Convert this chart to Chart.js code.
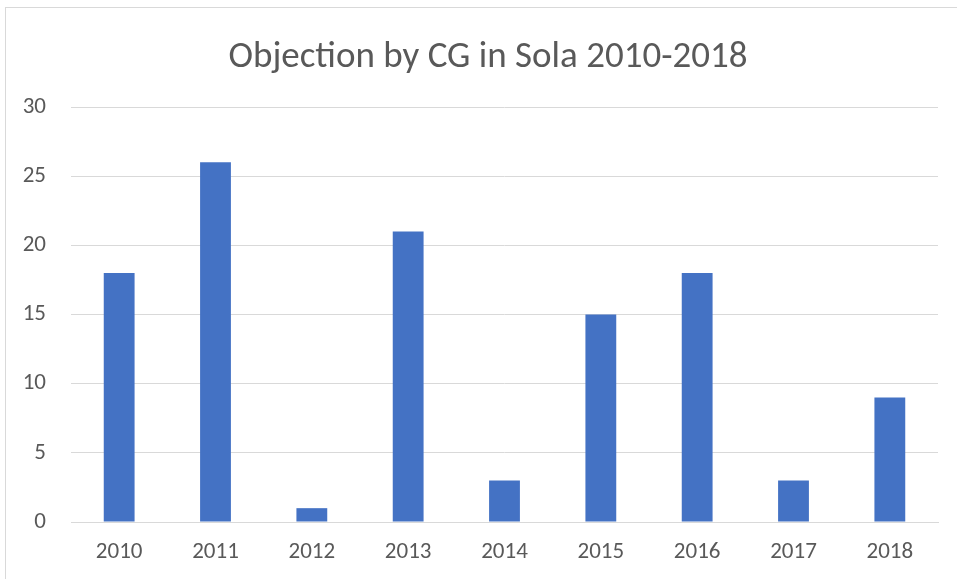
<!DOCTYPE html>
<html>
<head>
<meta charset="utf-8">
<script src="https://cdn.jsdelivr.net/npm/chart.js@4"></script>
<style>
html,body{margin:0;padding:0;background:#fff;overflow:hidden;}
#frame{position:absolute;left:5px;top:7px;width:1000px;height:640px;border:1px solid #d9d9d9;box-sizing:border-box;}
#wrap{position:absolute;left:0;top:0;width:957px;height:579px;}
</style>
</head>
<body>
<div id="frame"></div>
<div id="wrap"><canvas id="c" width="957" height="579"></canvas></div>
<script>
const categories = ["2010","2011","2012","2013","2014","2015","2016","2017","2018"];
const objections = [18, 26, 1, 21, 3, 15, 18, 3, 9];
const yTicks = [0, 5, 10, 15, 20, 25, 30];
const titleText = "Objection by CG in Sola 2010-2018";

const FONT = "Carlito, Calibri, Lato, 'Liberation Sans', sans-serif";

const titlePlugin = {
  id: 'centeredTitle',
  afterDraw(chart) {
    const ctx = chart.ctx;
    ctx.save();
    ctx.font = "normal 37px " + FONT;
    ctx.fillStyle = '#595959';
    ctx.textAlign = 'center';
    ctx.textBaseline = 'alphabetic';
    ctx.fillText(titleText, 488, 67);
    ctx.restore();
  }
};

new Chart(document.getElementById('c'), {
  type: 'bar',
  data: {
    labels: categories,
    datasets: [{
      data: objections,
      backgroundColor: '#4472C4',
      categoryPercentage: 1,
      barPercentage: 0.32
    }]
  },
  plugins: [titlePlugin],
  options: {
    responsive: false,
    animation: false,
    devicePixelRatio: 1,
    layout: { padding: { left: 0, right: 19, top: 107, bottom: 0 } },
    plugins: {
      legend: { display: false },
      tooltip: { enabled: false },
      title: { display: false }
    },
    scales: {
      x: {
        grid: { display: false, drawTicks: false },
        border: { color: '#d9d9d9', width: 1 },
        ticks: { color: '#595959', font: { family: FONT, size: 23 }, padding: 16 },
        afterFit: s => { s.height = 57; }
      },
      y: {
        min: 0, max: 30,
        afterBuildTicks: s => { s.ticks = yTicks.map(v => ({ value: v })); },
        grid: { color: '#d9d9d9', drawTicks: false },
        border: { display: false },
        ticks: { color: '#595959', font: { family: FONT, size: 23 }, padding: 25 },
        afterFit: s => { s.width = 71; }
      }
    }
  }
});
</script>
</body>
</html>
